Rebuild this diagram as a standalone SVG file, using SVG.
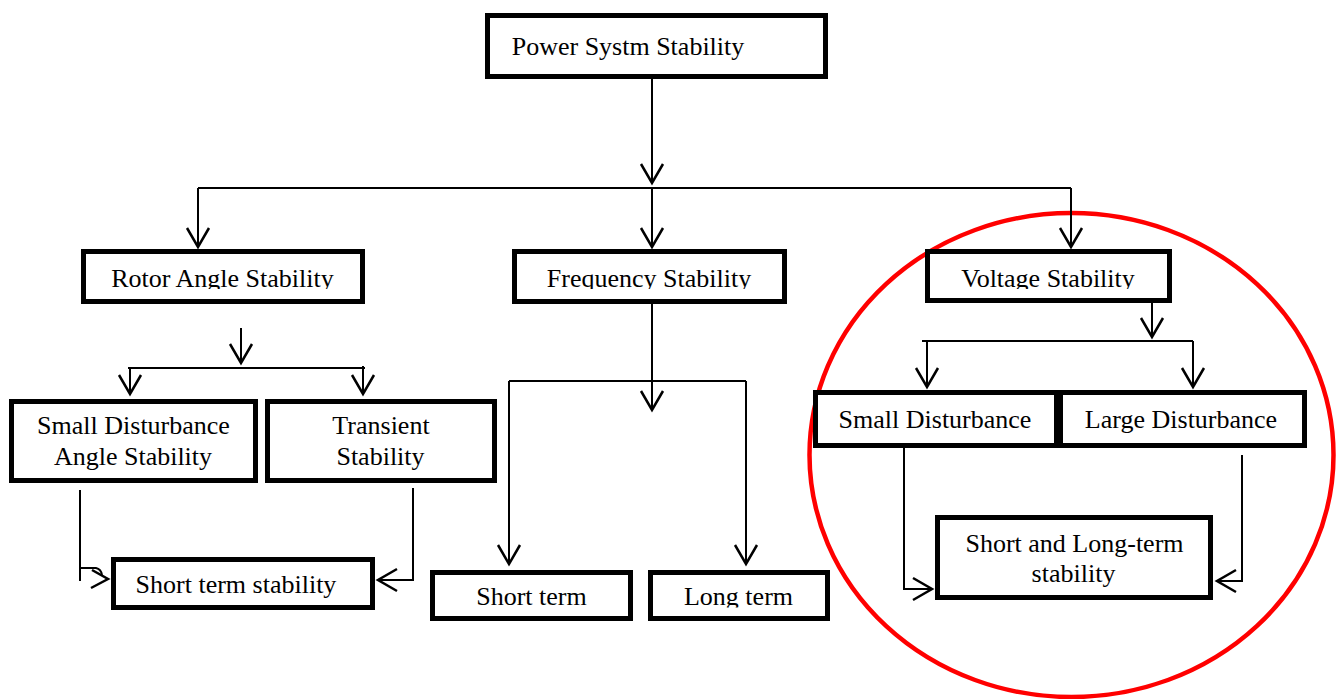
<svg xmlns="http://www.w3.org/2000/svg" width="1341" height="699" viewBox="0 0 1341 699">
<style>
.box{fill:#fff;stroke:#000;stroke-width:5}
.t{font-family:"Liberation Serif","Times New Roman",serif;font-size:26px;fill:#000;text-anchor:middle}
.c{fill:none;stroke:#000;stroke-width:2}
.ah{fill:none;stroke:#000;stroke-width:2.5}
</style>
<defs>
<marker id="arr" markerUnits="userSpaceOnUse" viewBox="-25 -15 30 30" refX="0" refY="0" markerWidth="30" markerHeight="30" orient="auto" overflow="visible">
<path d="M-19,-11 L0,0 L-19,11" fill="none" stroke="#000" stroke-width="2.5"/>
</marker>
<clipPath id="clipTop"><rect x="0" y="0" width="1341" height="289"/></clipPath>
<clipPath id="clipBot"><rect x="0" y="0" width="1341" height="607.5"/></clipPath>
</defs>
<rect width="1341" height="699" fill="#fff"/>
<ellipse id="highlight" cx="1071.5" cy="455" rx="262" ry="242" fill="none" stroke="#ff0000" stroke-width="4.5"/>
<g id="connectors">
<path class="c" d="M652,79 V183" marker-end="url(#arr)"/>
<path class="c" d="M198,188 H1071"/>
<path class="c" d="M198,188 V247" marker-end="url(#arr)"/>
<path class="c" d="M652,188 V247" marker-end="url(#arr)"/>
<path class="c" d="M1071,188 V247" marker-end="url(#arr)"/>
<path class="c" d="M241,328 V363" marker-end="url(#arr)"/>
<path class="c" d="M128,368 H365"/>
<path class="c" d="M130,368 V394" marker-end="url(#arr)"/>
<path class="c" d="M363,366 V394" marker-end="url(#arr)"/>
<path class="c" d="M80,490 V581"/>
<path class="c" d="M80,568 H96 Q101,569 102,575"/>
<path class="ah" d="M92,570 L108,579 L91,588"/>
<path class="c" d="M413,488 V580 H378" marker-end="url(#arr)"/>
<path class="c" d="M652,304 V410" marker-end="url(#arr)"/>
<path class="c" d="M509,381 H746"/>
<path class="c" d="M509,381 V564" marker-end="url(#arr)"/>
<path class="c" d="M746,381 V564" marker-end="url(#arr)"/>
<path class="c" d="M1152,303 V337" marker-end="url(#arr)"/>
<path class="c" d="M922,341 H1193"/>
<path class="c" d="M927,341 V387" marker-end="url(#arr)"/>
<path class="c" d="M1193,341 V387" marker-end="url(#arr)"/>
<path class="c" d="M904,448 V589 H932" marker-end="url(#arr)"/>
<path class="c" d="M1242,455 V581 H1217" marker-end="url(#arr)"/>
</g>
<g id="power-system-stability">
<rect class="box" x="487.5" y="15.5" width="338" height="61"/>
<text class="t" x="628" y="55">Power Systm Stability</text>
</g>
<g id="rotor-angle-stability">
<rect class="box" x="83.5" y="251.5" width="279" height="50"/>
<text class="t" x="222.5" y="287" clip-path="url(#clipTop)">Rotor Angle Stability</text>
</g>
<g id="frequency-stability">
<rect class="box" x="514.5" y="251.5" width="270" height="50"/>
<text class="t" x="649" y="287" clip-path="url(#clipTop)">Frequency Stability</text>
</g>
<g id="voltage-stability">
<rect class="box" x="927.5" y="251.5" width="242" height="49"/>
<text class="t" x="1048" y="287" clip-path="url(#clipTop)">Voltage Stability</text>
</g>
<g id="small-disturbance-angle-stability">
<rect class="box" x="11.5" y="401.5" width="244" height="79"/>
<text class="t" x="133.5" y="434">Small Disturbance</text>
<text class="t" x="133" y="465">Angle Stability</text>
</g>
<g id="transient-stability">
<rect class="box" x="267.5" y="401.5" width="227" height="79"/>
<text class="t" x="381" y="434">Transient</text>
<text class="t" x="380.5" y="465">Stability</text>
</g>
<g id="short-term-stability">
<rect class="box" x="113.5" y="559.5" width="259" height="48"/>
<text class="t" x="236" y="593">Short term stability</text>
</g>
<g id="short-term">
<rect class="box" x="432.5" y="572.5" width="198" height="46"/>
<text class="t" x="531.5" y="605" clip-path="url(#clipBot)">Short term</text>
</g>
<g id="long-term">
<rect class="box" x="650.5" y="572.5" width="177" height="46"/>
<text class="t" x="738.5" y="605" clip-path="url(#clipBot)">Long term</text>
</g>
<g id="small-disturbance">
<rect class="box" x="815.5" y="392.5" width="241" height="53"/>
<text class="t" x="935" y="428">Small Disturbance</text>
</g>
<g id="large-disturbance">
<rect class="box" x="1060.5" y="392.5" width="244" height="53"/>
<text class="t" x="1181" y="428">Large Disturbance</text>
</g>
<g id="short-and-long-term-stability">
<rect class="box" x="937.5" y="517.5" width="273" height="80"/>
<text class="t" x="1074.5" y="552">Short and Long-term</text>
<text class="t" x="1073.5" y="582">stability</text>
</g>
</svg>
